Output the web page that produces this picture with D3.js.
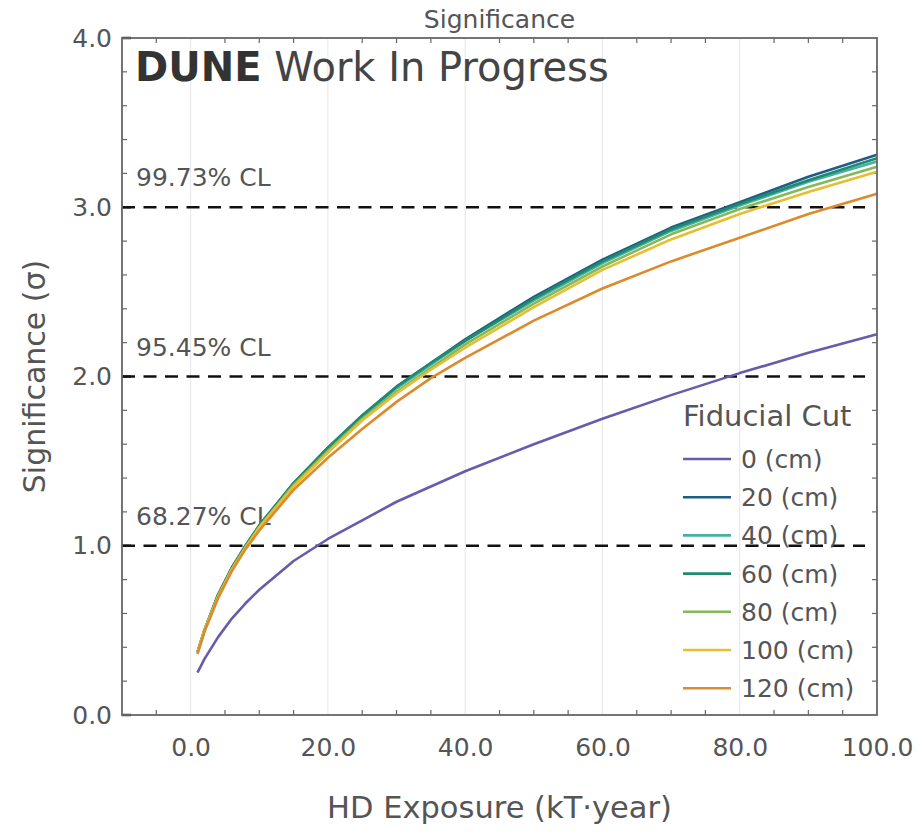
<!DOCTYPE html>
<html><head><meta charset="utf-8">
<script src="https://cdn.jsdelivr.net/npm/d3@7"></script>
<style>
body{margin:0;background:#fff;}
svg{display:block;font-family:"DejaVu Sans",sans-serif;}
</style></head><body>
<svg id="c" width="920" height="832"></svg>
<script>
const exposure = [1, 2, 4, 6, 8, 10, 15, 20, 25, 30, 35, 40, 50, 60, 70, 80, 90, 100];
const sig0   = [0.25,0.33,0.46,0.57,0.66,0.74,0.91,1.04,1.15,1.26,1.35,1.44,1.60,1.75,1.89,2.02,2.14,2.25];
const sig20  = [0.37,0.50,0.71,0.87,1.00,1.12,1.37,1.58,1.77,1.94,2.08,2.22,2.47,2.69,2.88,3.03,3.18,3.31];
const sig40  = [0.37,0.50,0.71,0.87,1.00,1.12,1.37,1.57,1.76,1.93,2.07,2.21,2.45,2.67,2.86,3.01,3.15,3.27];
const sig60  = [0.37,0.50,0.71,0.87,1.00,1.12,1.37,1.58,1.77,1.94,2.08,2.21,2.46,2.68,2.87,3.02,3.16,3.29];
const sig80  = [0.37,0.50,0.70,0.86,0.99,1.11,1.36,1.56,1.75,1.91,2.05,2.19,2.43,2.65,2.84,2.99,3.12,3.24];
const sig100 = [0.37,0.50,0.70,0.86,0.99,1.11,1.35,1.55,1.74,1.90,2.04,2.17,2.41,2.63,2.81,2.96,3.09,3.21];
const sig120 = [0.36,0.49,0.69,0.85,0.98,1.09,1.33,1.52,1.69,1.85,1.99,2.11,2.33,2.52,2.68,2.82,2.96,3.08];
const seriesLabels = ["0 (cm)","20 (cm)","40 (cm)","60 (cm)","80 (cm)","100 (cm)","120 (cm)"];
const seriesValues = [sig0,sig20,sig40,sig60,sig80,sig100,sig120];
const seriesColors = ["#6a5aab","#1f5d86","#45b0a3","#1f8a70","#84b95a","#e6be30","#dd8a2c"];
const clLevels = [1, 2, 3];
const clLabels = ["68.27% CL","95.45% CL","99.73% CL"];
const xTicks = [0,20,40,60,80,100];
const yTicks = [0,1,2,3,4];

const svg = d3.select("#c");
const L=122,R=877,T=38,B=715;
const x = d3.scaleLinear().domain([-10,100]).range([L,R]);
const y = d3.scaleLinear().domain([0,4]).range([B,T]);
const txt="#555";

// gridlines
svg.append("g").selectAll("line").data(xTicks.filter(d=>d<100)).join("line")
  .attr("x1",d=>x(d)).attr("x2",d=>x(d)).attr("y1",T).attr("y2",B)
  .attr("stroke","#e6e6e6").attr("stroke-width",1);

// minor ticks
const xMinor = d3.range(-5,100,5).filter(d=>d%20!==0);
const yMinor = d3.range(0,4.001,0.2).filter(d=>Math.abs(d-Math.round(d))>1e-6);
const tk = svg.append("g").attr("stroke","#666").attr("stroke-width",1.2);
xMinor.forEach(d=>{
  tk.append("line").attr("x1",x(d)).attr("x2",x(d)).attr("y1",B).attr("y2",B-5);
  tk.append("line").attr("x1",x(d)).attr("x2",x(d)).attr("y1",T).attr("y2",T+5);
});
yMinor.forEach(d=>{
  tk.append("line").attr("x1",L).attr("x2",L+5).attr("y1",y(d)).attr("y2",y(d));
  tk.append("line").attr("x1",R).attr("x2",R-5).attr("y1",y(d)).attr("y2",y(d));
});
yTicks.forEach(d=>{
  svg.append("line").attr("x1",L).attr("x2",L+9).attr("y1",y(d)).attr("y2",y(d)).attr("stroke","#333").attr("stroke-width",2.5);
});

// CL dashed lines
clLevels.forEach((c,i)=>{
  svg.append("line").attr("x1",L).attr("x2",R-12).attr("y1",y(c)).attr("y2",y(c))
    .attr("stroke","#111").attr("stroke-width",2.6).attr("stroke-dasharray","13,8.5");
  svg.append("text").attr("x",136).attr("y",y(c)-21).attr("font-size",25).attr("fill",txt).text(clLabels[i]);
});

// series
const line = d3.line().x((d,i)=>x(exposure[i])).y(d=>y(d));
seriesValues.forEach((s,i)=>{
  svg.append("path").datum(s).attr("d",line).attr("fill","none")
    .attr("stroke",seriesColors[i]).attr("stroke-width",2.6).attr("stroke-linejoin","round");
});

// frame
svg.append("rect").attr("x",L).attr("y",T).attr("width",R-L).attr("height",B-T)
  .attr("fill","none").attr("stroke","#666").attr("stroke-width",1.8);

// axes labels
const xAxis = d3.axisBottom(x).tickValues(xTicks).tickFormat(d3.format(".1f")).tickSize(0).tickPadding(23);
const gx = svg.append("g").attr("transform",`translate(0,${B})`).call(xAxis);
gx.select(".domain").remove();
gx.selectAll("text").attr("font-size",25).attr("fill",txt).attr("font-family","DejaVu Sans");
const yAxis = d3.axisLeft(y).tickValues(yTicks).tickFormat(d3.format(".1f")).tickSize(0).tickPadding(10);
const gy = svg.append("g").attr("transform",`translate(${L},0)`).call(yAxis);
gy.select(".domain").remove();
gy.selectAll("text").attr("font-size",25).attr("fill",txt).attr("font-family","DejaVu Sans");

svg.append("text").attr("x",(L+R)/2).attr("y",818).attr("text-anchor","middle")
  .attr("font-size",30.5).attr("fill",txt).text("HD Exposure (kT·year)");
svg.append("text").attr("transform",`translate(45,${(T+B)/2}) rotate(-90)`).attr("text-anchor","middle")
  .attr("font-size",30).attr("fill",txt).text("Significance (σ)");
svg.append("text").attr("x",(L+R)/2).attr("y",28).attr("text-anchor","middle")
  .attr("font-size",25).attr("fill",txt).text("Significance");

const dt = svg.append("text").attr("x",135).attr("y",81).attr("font-size",40).attr("fill","#444");
dt.append("tspan").attr("font-weight","bold").attr("fill","#333").text("DUNE");
dt.append("tspan").text(" Work In Progress");

// legend
const lg = svg.append("g");
lg.append("text").attr("x",683).attr("y",426).attr("font-size",29).attr("fill",txt).text("Fiducial Cut");
seriesLabels.forEach((lab,i)=>{
  const yy = 459 + i*38.2;
  lg.append("line").attr("x1",683).attr("x2",731).attr("y1",yy).attr("y2",yy)
    .attr("stroke",seriesColors[i]).attr("stroke-width",2.6);
  lg.append("text").attr("x",741).attr("y",yy+9).attr("font-size",25).attr("fill",txt).text(lab);
});
</script></body></html>
